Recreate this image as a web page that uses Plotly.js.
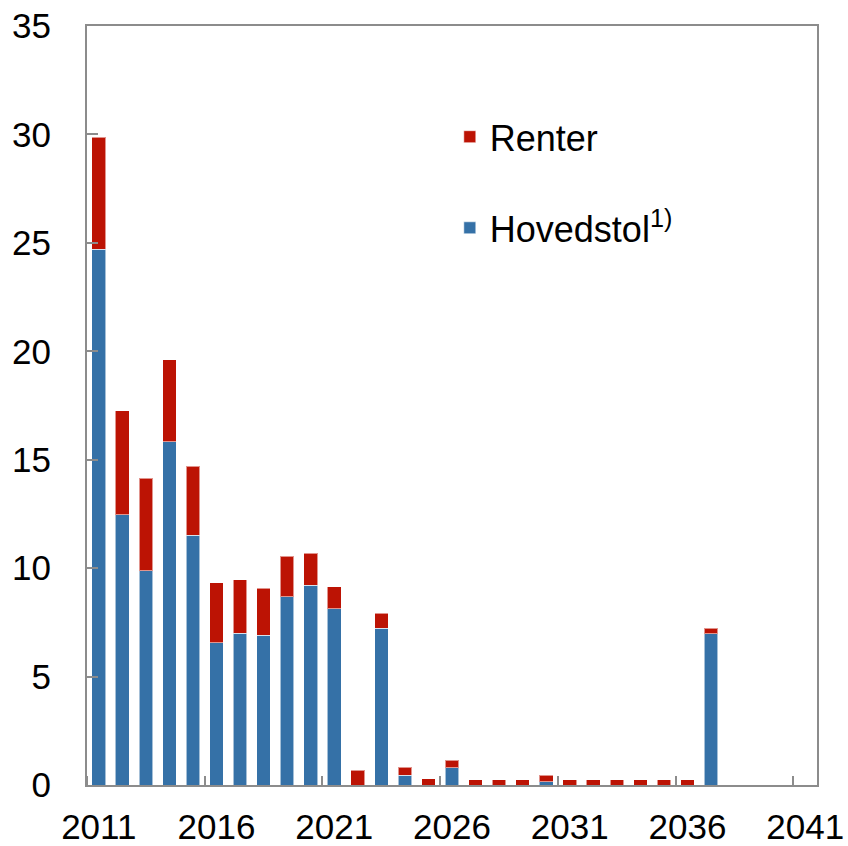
<!DOCTYPE html>
<html>
<head>
<meta charset="utf-8">
<script src="https://cdn.plot.ly/plotly-3.0.1.min.js"></script>
<style>html,body{margin:0;padding:0;background:#fff;}#chart{width:848px;height:846px;}</style>
</head>
<body>
<div id="chart"></div>
<script>
var years = [2011,2012,2013,2014,2015,2016,2017,2018,2019,2020,2021,2022,2023,2024,2025,2026,2027,2028,2029,2030,2031,2032,2033,2034,2035,2036,2037];
var hovedstol = [24.7,12.46,9.88,15.83,11.52,6.55,6.99,6.91,8.68,9.22,8.12,0,7.22,0.45,0,0.80,0,0,0,0.15,0,0,0,0,0,0,6.98];
var totals = [29.86,17.25,14.15,19.62,14.69,9.32,9.46,9.08,10.54,10.68,9.14,0.69,7.93,0.82,0.29,1.14,0.25,0.25,0.25,0.46,0.25,0.25,0.25,0.25,0.25,0.25,7.24];
var renter = totals.map(function(t,i){ return Math.round((t - hovedstol[i])*100)/100; });
var xTickVals = [2011,2016,2021,2026,2031,2036,2041];
var yTickVals = [0,5,10,15,20,25,30,35];

var blue = '#3571a7', red = '#bc1304', grey = '#8c8c8c';
var font = 'Liberation Sans, Arial, sans-serif';

var traces = [
  {type:'bar', x:years, y:hovedstol, name:'Hovedstol<sup>1)</sup>', legend:'legend2',
   marker:{color:blue, line:{color:'rgba(255,255,255,0.55)', width:1}}},
  {type:'bar', x:years, y:renter, name:'Renter', legend:'legend',
   marker:{color:red, line:{color:'rgba(255,255,255,0.55)', width:1}}}
];

var layout = {
  width:848, height:846,
  margin:{l:87, r:31, t:26, b:61, pad:0},
  paper_bgcolor:'#fff', plot_bgcolor:'#fff',
  barmode:'stack', bargap:0.42,
  font:{family:font, size:35, color:'#000'},
  showlegend:true,
  legend:{x:0.497, xanchor:'left', y:0.854, yanchor:'middle', bgcolor:'rgba(0,0,0,0)', font:{size:36, family:font}},
  legend2:{x:0.497, xanchor:'left', y:0.734, yanchor:'middle', bgcolor:'rgba(0,0,0,0)', font:{size:36, family:font}},
  xaxis:{
    range:[2010.5, 2041.5], tickmode:'array', tickvals:xTickVals, ticks:'',
    showgrid:false, zeroline:false, showline:true, linecolor:grey, linewidth:2, mirror:true,
    minor:{tick0:2010.5, dtick:5, ticks:'inside', ticklen:9, tickcolor:grey, tickwidth:2, showgrid:false},
    ticklabelstandoff:10, tickfont:{size:35, family:font}
  },
  yaxis:{
    range:[0,35], tickmode:'array', tickvals:yTickVals, ticks:'inside', ticklen:11, tickcolor:grey, tickwidth:2,
    showgrid:false, zeroline:false, showline:true, linecolor:grey, linewidth:2, mirror:true,
    ticklabelstandoff:27, tickfont:{size:35, family:font}
  }
};

Plotly.newPlot('chart', traces, layout, {staticPlot:true, displayModeBar:false});
</script>
</body>
</html>
